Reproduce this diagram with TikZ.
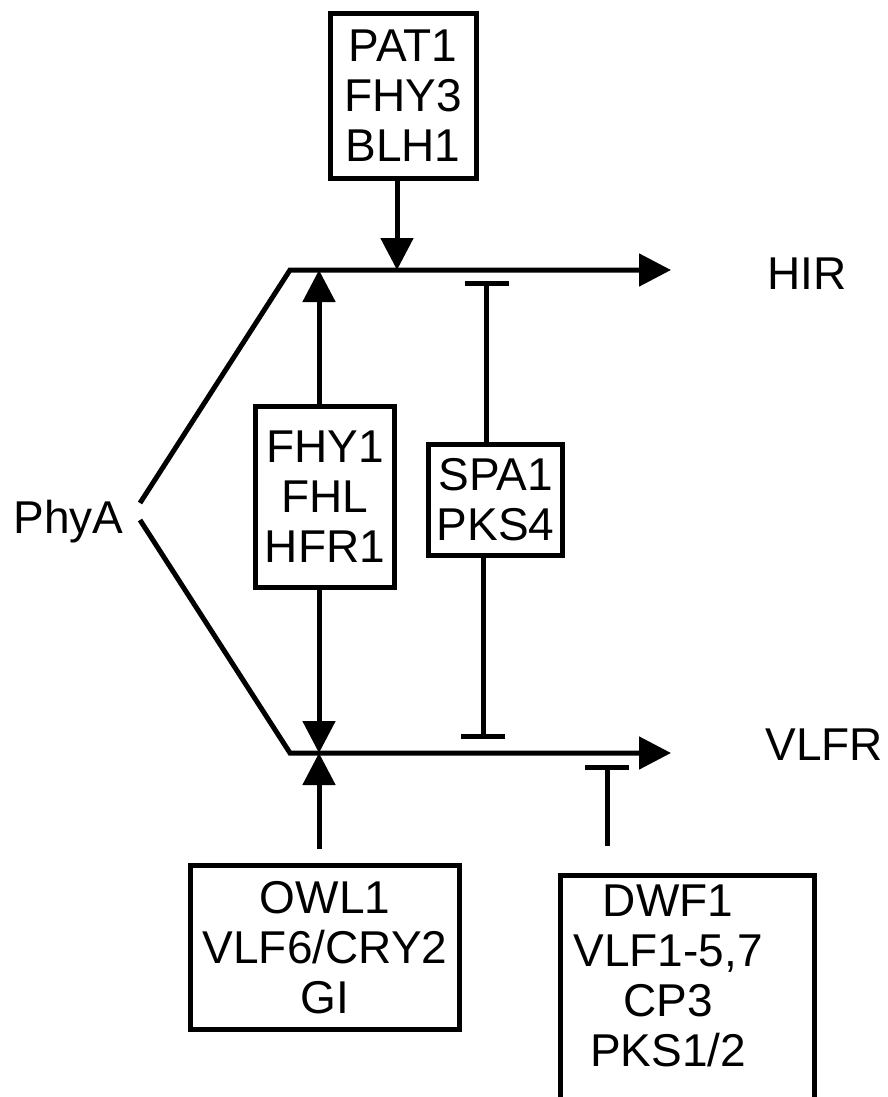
\documentclass[tikz,border=0pt]{standalone}
\usepackage{fontspec}
\setmainfont{Liberation Sans}
\usetikzlibrary{arrows.meta}
\tikzset{
  box/.style={draw, line width=2.5pt, align=center, inner sep=0pt, font=\fontsize{23}{25}\selectfont},
  lbl/.style={inner sep=0pt, font=\fontsize{23}{26}\selectfont},
  line/.style={line width=2.5pt},
  act/.style={line, -{Triangle[length=16pt,width=16pt]}},
  inhib/.style={line, -{Bar[width=22pt]}}
}
\begin{document}
\begin{tikzpicture}[x=0.5pt,y=-0.5pt]
  \useasboundingbox (0,0) rectangle (888,1097);
  \clip (0,0) rectangle (888,1097);

  \node[box, minimum width=73pt, minimum height=82.5pt] (pat) at (403,96) {PAT1\\FHY3\\BLH1};
  \node[box, minimum width=69.75pt, minimum height=90.5pt] (fhy) at (325,497) {FHY1\\FHL\\HFR1};
  \node[box, minimum width=67pt, minimum height=55.5pt] (spa) at (495.5,499.5) {SPA1\\PKS4};
  \node[box, minimum width=134.5pt, minimum height=82pt] (owl) at (325,947.5) {OWL1\\VLF6/CRY2\\GI};
  \node[box, minimum width=127pt, minimum height=130pt] (dwf) at (687.5,1005) {};
  \node[box, draw=none] (dwftxt) at (668,976) {DWF1\\VLF1-5,7\\CP3\\PKS1/2};

  \node[lbl, anchor=base west] (phya) at (13,533) {PhyA};
  \node[lbl, anchor=west] (hir) at (767,274) {HIR};
  \node[lbl, anchor=west] (vlfr) at (765,745) {VLFR};

  \coordinate (pu) at (140,503);
  \coordinate (pd) at (140,520);
  \coordinate (hs) at (290,270);
  \coordinate (vs) at (290,753);
  \coordinate (hend) at (671,270);
  \coordinate (vend) at (671,753);
  \coordinate (patin) at (397,270);
  \coordinate (fhyup) at (319,270);
  \coordinate (fhydn) at (319,753);
  \coordinate (spaup) at (486.5,281);
  \coordinate (spadn) at (483,739);
  \coordinate (dwfin) at (607,765);

  \draw[act] (pu) -- (hs) -- (hend);
  \draw[act] (pd) -- (vs) -- (vend);
  \draw[act] (pat.south -| patin) -- (patin);
  \draw[act] (fhy.north -| fhyup) -- (fhyup);
  \draw[act] (fhy.south -| fhydn) -- (fhydn);
  \draw[act] ([yshift=7.25pt]owl.north -| fhydn) -- (fhydn);
  \draw[inhib] (spa.north -| spaup) -- (spaup);
  \draw[inhib] (spa.south -| spadn) -- (spadn);
  \draw[inhib] ([yshift=13.5pt]dwf.north -| dwfin) -- (dwfin);
\end{tikzpicture}
\end{document}
